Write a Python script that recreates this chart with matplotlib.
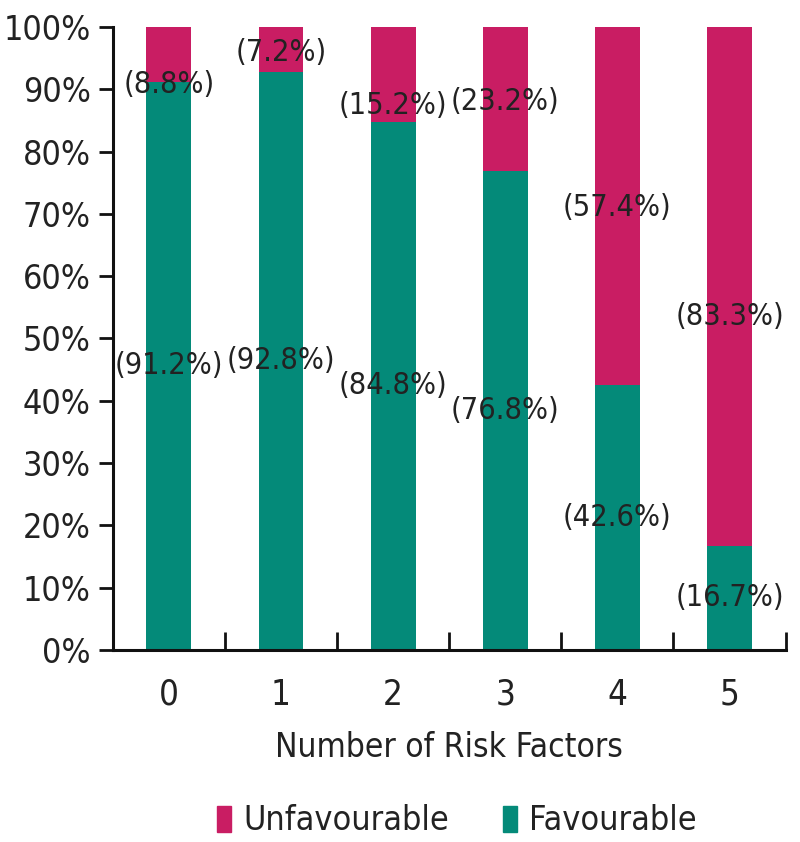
import matplotlib
matplotlib.use("Agg")
import matplotlib.pyplot as plt
import numpy as np
from matplotlib.patches import Patch

plt.rcParams['font.family'] = ['DejaVu Sans']
plt.rcParams['font.stretch'] = 'condensed'

categories = ["0", "1", "2", "3", "4", "5"]
favourable = [91.2, 92.8, 84.8, 76.8, 42.6, 16.7]
unfavourable = [8.8, 7.2, 15.2, 23.2, 57.4, 83.3]
yticks = [0, 10, 20, 30, 40, 50, 60, 70, 80, 90, 100]

GREEN = "#048a79"
MAGENTA = "#c91d63"
TXT = "#222222"

x = np.arange(len(categories))
fig = plt.figure(figsize=(8, 8.42), dpi=100)
ax = fig.add_axes([0.141, 0.228, 0.841, 0.740])

ax.bar(x, favourable, width=0.4, color=GREEN)
ax.bar(x, unfavourable, width=0.4, bottom=favourable, color=MAGENTA)

# label nudges (in % units) for the top labels, as placed in the original
top_nudge = [-4.8, -0.5, -5, -0.3, -0.3, -4.8]
for i in range(len(categories)):
    ax.text(x[i], favourable[i] / 2, f"({favourable[i]:.1f}%)", ha="center", va="center",
            fontsize=22, color=TXT)
    ax.text(x[i], favourable[i] + unfavourable[i] / 2 + top_nudge[i], f"({unfavourable[i]:.1f}%)",
            ha="center", va="center", fontsize=22, color=TXT)

ax.set_xlim(-0.5, 5.5)
ax.set_ylim(0, 100)
ax.set_yticks(yticks)
ax.set_yticklabels([f"{v}%" for v in yticks], fontsize=24.5, color=TXT)
ax.set_xticks(x)
ax.set_xticklabels(categories, fontsize=25, color=TXT)
ax.tick_params(axis="x", length=0, pad=20)
ax.set_xticks(np.arange(-0.5, 6, 1), minor=True)
ax.tick_params(axis="x", which="minor", direction="in", length=13, width=2, color="#111111")
ax.tick_params(axis="y", direction="out", length=10, width=2, color="#111111", pad=6)
for s in ["top", "right"]:
    ax.spines[s].set_visible(False)
for s in ["left", "bottom"]:
    ax.spines[s].set_linewidth(2.2)
    ax.spines[s].set_color("#111111")
ax.set_xlabel("Number of Risk Factors", fontsize=24, color=TXT, labelpad=14)

handles = [Patch(color=MAGENTA, label="Unfavourable"), Patch(color=GREEN, label="Favourable")]
fig.legend(handles=handles, loc="center", bbox_to_anchor=(0.571, 0.025), ncol=2, frameon=False,
           fontsize=24.5, handlelength=0.4, handleheight=0.8, handletextpad=0.35, columnspacing=1.6,
           labelcolor=TXT)

fig.savefig("out.png", dpi=100)
